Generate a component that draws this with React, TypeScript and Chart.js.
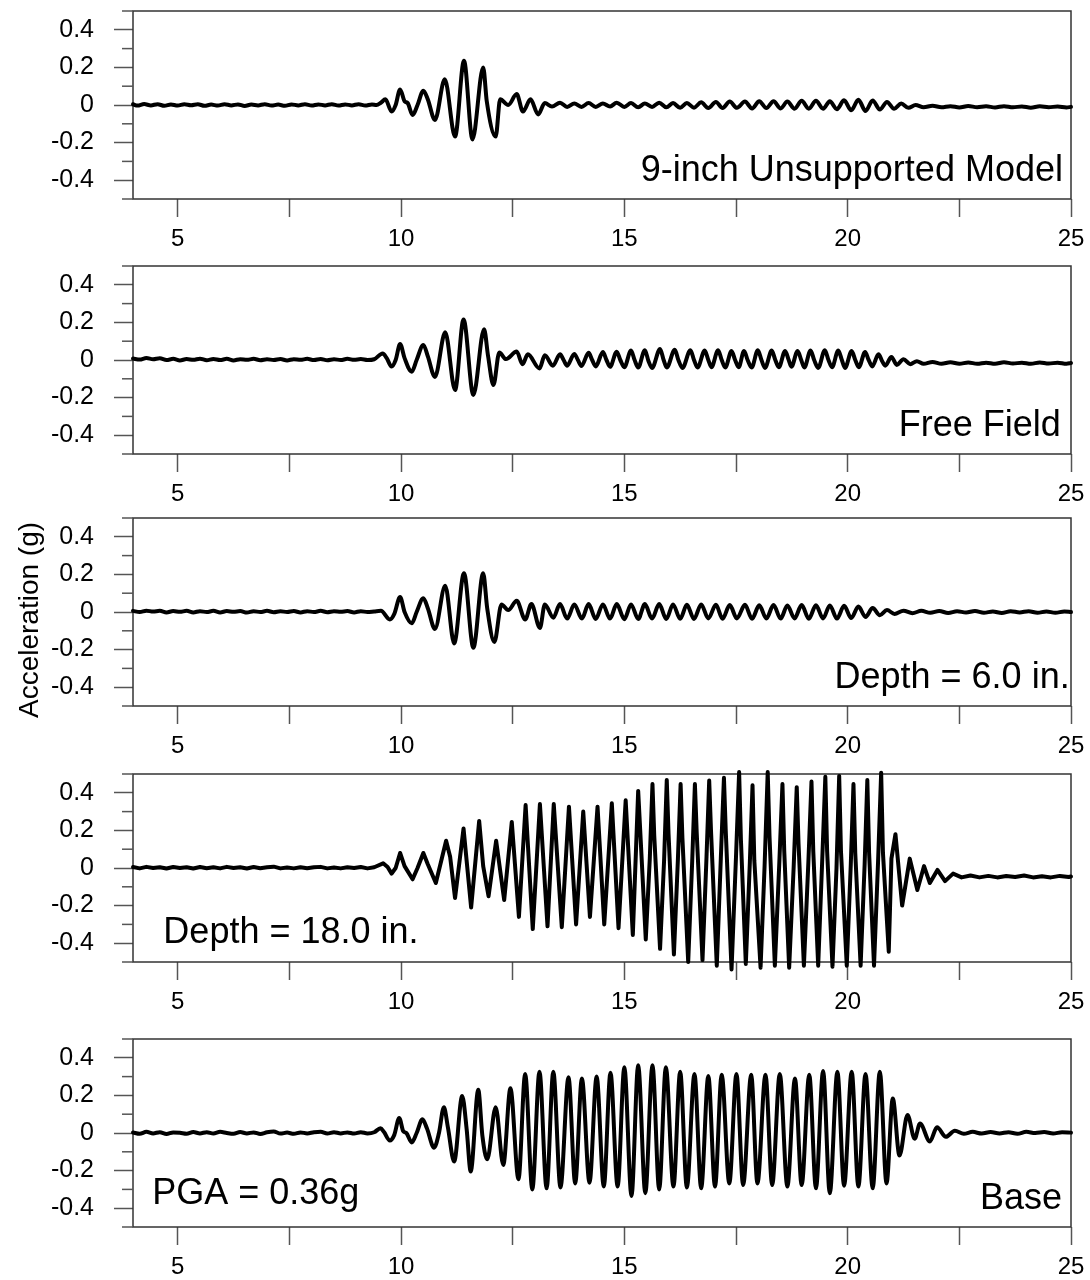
import React, { useEffect, useRef } from "react";
import { Chart, registerables } from "chart.js";

Chart.register(...registerables);

type Pt = [number, number];

// ---------- axis ticks / labels ----------
const X_TICKS = [5, 7.5, 10, 12.5, 15, 17.5, 20, 22.5, 25];
const X_LABELS = [5, 10, 15, 20, 25];
const Y_TICKS = [-0.5, -0.4, -0.3, -0.2, -0.1, 0, 0.1, 0.2, 0.3, 0.4, 0.5];
const Y_LABELS = [-0.4, -0.2, 0, 0.2, 0.4];
const Y_TITLE = "Acceleration (g)";

// ---------- series: [time (s), acceleration (g)] ----------
const unsupported: Pt[] = [
  [4.0, 0.004], [4.1, -0.003], [4.25, 0.005], [4.4, -0.002], [4.55, 0.004], [4.7, -0.004], [4.85, 0.003], [5.0, -0.003],
  [5.15, 0.004], [5.3, -0.001], [5.45, 0.004], [5.6, -0.004], [5.75, 0.002], [5.9, -0.003], [6.05, 0.004], [6.2, -0.002],
  [6.35, 0.003], [6.5, -0.005], [6.65, 0.002], [6.8, -0.002], [6.95, 0.004], [7.1, -0.003], [7.25, 0.002], [7.4, -0.004],
  [7.55, 0.003], [7.7, -0.002], [7.85, 0.004], [8.0, -0.003], [8.15, 0.003], [8.3, -0.002], [8.45, 0.004], [8.6, -0.003],
  [8.75, 0.003], [8.9, -0.002], [9.05, 0.004], [9.2, -0.003], [9.35, 0.003], [9.45, 0.0],
  [9.55, 0.012], [9.65, 0.03], [9.79, -0.035], [9.88, 0.0], [9.98, 0.083], [10.08, 0.02], [10.15, 0.01], [10.26, -0.053],
  [10.37, 0.0], [10.5, 0.076], [10.6, 0.03], [10.76, -0.08], [10.98, 0.137], [11.21, -0.168], [11.41, 0.236], [11.6, -0.183],
  [11.84, 0.2], [11.92, 0.02], [12.12, -0.168], [12.22, 0.03], [12.4, 0.0], [12.59, 0.058], [12.73, -0.035], [12.9, 0.03],
  [13.07, -0.05], [13.22, 0.01], [13.38, -0.008], [13.56, 0.012], [13.72, -0.01], [13.88, 0.008], [14.04, -0.01], [14.2, 0.01],
  [14.36, -0.01], [14.52, 0.008], [14.68, -0.008], [14.83, 0.012], [15.0, -0.01], [15.15, 0.01], [15.31, -0.012], [15.46, 0.008],
  [15.62, -0.01], [15.78, 0.012], [15.94, -0.012], [16.09, 0.01], [16.25, -0.015], [16.4, 0.01], [16.56, -0.014], [16.72, 0.014],
  [16.88, -0.016], [17.05, 0.016], [17.2, -0.016], [17.36, 0.018], [17.52, -0.015], [17.7, 0.018], [17.86, -0.018], [18.02, 0.02],
  [18.18, -0.016], [18.34, 0.02], [18.5, -0.018], [18.65, 0.018], [18.81, -0.02], [18.97, 0.022], [19.13, -0.02], [19.29, 0.022],
  [19.45, -0.02], [19.6, 0.02], [19.76, -0.022], [19.92, 0.025], [20.08, -0.028], [20.24, 0.028], [20.4, -0.032], [20.56, 0.024],
  [20.72, -0.024], [20.88, 0.016], [21.04, -0.02], [21.2, 0.008], [21.36, -0.015], [21.52, 0.0], [21.7, -0.012], [21.9, -0.004],
  [22.1, -0.012], [22.3, -0.006], [22.5, -0.013], [22.7, -0.005], [22.9, -0.012], [23.1, -0.007], [23.3, -0.013], [23.5, -0.006],
  [23.7, -0.012], [23.9, -0.008], [24.1, -0.014], [24.3, -0.007], [24.5, -0.012], [24.7, -0.008], [24.9, -0.013], [25.0, -0.01],
];

const freeField: Pt[] = [
  [4.0, 0.008], [4.15, 0.002], [4.3, 0.01], [4.45, 0.004], [4.6, 0.009], [4.75, 0.0], [4.9, 0.006], [5.05, -0.002],
  [5.2, 0.005], [5.35, 0.001], [5.5, 0.007], [5.65, -0.001], [5.8, 0.005], [5.95, 0.0], [6.1, 0.006], [6.25, -0.002],
  [6.4, 0.004], [6.55, 0.001], [6.7, 0.006], [6.85, -0.001], [7.0, 0.004], [7.15, 0.0], [7.3, 0.005], [7.45, -0.002],
  [7.6, 0.004], [7.75, 0.001], [7.9, 0.006], [8.05, 0.0], [8.2, 0.005], [8.35, -0.001], [8.5, 0.004], [8.65, 0.0],
  [8.8, 0.006], [8.95, 0.001], [9.1, 0.005], [9.25, 0.0], [9.4, 0.004],
  [9.59, 0.035], [9.68, 0.01], [9.79, -0.035], [9.88, 0.0], [9.98, 0.085], [10.08, 0.01], [10.24, -0.062], [10.35, 0.0],
  [10.5, 0.08], [10.6, 0.02], [10.76, -0.09], [10.99, 0.147], [11.21, -0.16], [11.4, 0.216], [11.62, -0.186], [11.86, 0.163],
  [11.95, 0.02], [12.07, -0.133], [12.2, 0.04], [12.35, 0.005], [12.59, 0.045], [12.72, -0.022], [12.84, 0.03], [13.1, -0.045],
  [13.22, 0.025], [13.4, -0.03], [13.56, 0.03], [13.64, 0.0], [13.72, -0.03], [13.88, 0.032], [13.96, 0.0], [14.04, -0.032],
  [14.2, 0.038], [14.28, 0.0], [14.36, -0.034], [14.52, 0.042], [14.6, 0.0], [14.68, -0.036], [14.83, 0.044], [14.91, 0.0],
  [15.0, -0.038], [15.15, 0.05], [15.23, 0.0], [15.31, -0.04], [15.46, 0.052], [15.54, -0.005], [15.62, -0.042], [15.8, 0.058],
  [15.88, 0.0], [15.95, -0.04], [16.13, 0.055], [16.21, 0.0], [16.3, -0.042], [16.48, 0.052], [16.56, 0.0], [16.64, -0.04],
  [16.8, 0.05], [16.88, 0.0], [16.95, -0.038], [17.1, 0.052], [17.18, 0.0], [17.26, -0.04], [17.4, 0.048], [17.48, 0.0],
  [17.56, -0.038], [17.68, 0.048], [17.76, 0.0], [17.85, -0.04], [17.99, 0.052], [18.07, 0.0], [18.15, -0.042], [18.3, 0.05],
  [18.38, 0.0], [18.46, -0.038], [18.6, 0.048], [18.68, 0.0], [18.74, -0.036], [18.88, 0.048], [18.96, 0.0], [19.03, -0.04],
  [19.17, 0.05], [19.25, 0.0], [19.34, -0.042], [19.49, 0.052], [19.57, 0.0], [19.65, -0.038], [19.79, 0.05], [19.87, 0.0],
  [19.94, -0.042], [20.09, 0.048], [20.17, 0.0], [20.25, -0.038], [20.39, 0.042], [20.47, 0.0], [20.55, -0.034], [20.69, 0.03],
  [20.77, -0.005], [20.84, -0.03], [20.98, 0.016], [21.1, -0.026], [21.25, 0.004], [21.4, -0.022], [21.55, -0.006], [21.7, -0.02],
  [21.9, -0.01], [22.1, -0.02], [22.3, -0.012], [22.5, -0.02], [22.7, -0.013], [22.9, -0.02], [23.1, -0.014], [23.3, -0.02],
  [23.5, -0.012], [23.7, -0.019], [23.9, -0.014], [24.1, -0.02], [24.3, -0.013], [24.5, -0.019], [24.7, -0.014], [24.9, -0.02],
  [25.0, -0.016],
];

const depth6: Pt[] = [
  [4.0, 0.006], [4.15, 0.0], [4.3, 0.007], [4.45, 0.002], [4.6, 0.006], [4.75, -0.002], [4.9, 0.005], [5.05, 0.001],
  [5.2, 0.006], [5.35, -0.002], [5.5, 0.004], [5.65, 0.0], [5.8, 0.006], [5.95, -0.002], [6.1, 0.005], [6.25, 0.001],
  [6.4, 0.005], [6.55, -0.003], [6.7, 0.004], [6.85, 0.0], [7.0, 0.006], [7.15, -0.001], [7.3, 0.004], [7.45, 0.0],
  [7.6, 0.005], [7.75, -0.002], [7.9, 0.004], [8.05, 0.0], [8.2, 0.006], [8.35, -0.001], [8.5, 0.004], [8.65, 0.001],
  [8.8, 0.005], [8.95, -0.002], [9.1, 0.004], [9.25, 0.0], [9.4, 0.003],
  [9.55, 0.006], [9.75, -0.04], [9.85, -0.01], [9.98, 0.08], [10.08, 0.0], [10.24, -0.06], [10.35, 0.0], [10.5, 0.073],
  [10.6, 0.02], [10.76, -0.09], [10.99, 0.14], [11.19, -0.167], [11.41, 0.206], [11.62, -0.19], [11.84, 0.206], [11.93, 0.02],
  [12.09, -0.16], [12.25, 0.04], [12.4, 0.01], [12.59, 0.06], [12.78, -0.04], [12.92, 0.042], [13.11, -0.085], [13.22, 0.04],
  [13.41, -0.03], [13.56, 0.042], [13.72, -0.035], [13.88, 0.04], [14.05, -0.035], [14.2, 0.042], [14.36, -0.037], [14.52, 0.04],
  [14.68, -0.035], [14.83, 0.042], [15.0, -0.038], [15.15, 0.04], [15.31, -0.037], [15.46, 0.042], [15.62, -0.035], [15.78, 0.042],
  [15.94, -0.037], [16.09, 0.04], [16.25, -0.036], [16.4, 0.038], [16.56, -0.037], [16.72, 0.04], [16.88, -0.034], [17.05, 0.038],
  [17.2, -0.036], [17.36, 0.037], [17.52, -0.034], [17.7, 0.038], [17.86, -0.036], [18.02, 0.036], [18.18, -0.034], [18.34, 0.037],
  [18.5, -0.035], [18.65, 0.035], [18.81, -0.034], [18.97, 0.037], [19.13, -0.036], [19.29, 0.036], [19.45, -0.034], [19.6, 0.035],
  [19.76, -0.035], [19.92, 0.033], [20.08, -0.032], [20.24, 0.029], [20.4, -0.026], [20.56, 0.021], [20.72, -0.017], [20.88, 0.01],
  [21.05, -0.01], [21.25, 0.007], [21.45, -0.006], [21.65, 0.006], [21.85, -0.004], [22.05, 0.005], [22.25, -0.005], [22.45, 0.004],
  [22.65, -0.003], [22.85, 0.005], [23.05, -0.004], [23.25, 0.003], [23.45, -0.005], [23.65, 0.004], [23.85, -0.002], [24.05, 0.004],
  [24.25, -0.004], [24.45, 0.003], [24.65, -0.004], [24.85, 0.003], [25.0, 0.0],
];

const depth18: Pt[] = [
  [4.0, 0.005], [4.15, -0.002], [4.3, 0.006], [4.45, 0.0], [4.6, 0.004], [4.75, -0.003], [4.9, 0.005], [5.05, 0.0],
  [5.2, 0.004], [5.35, -0.003], [5.5, 0.005], [5.65, -0.001], [5.8, 0.004], [5.95, -0.002], [6.1, 0.006], [6.25, 0.0],
  [6.4, 0.004], [6.55, -0.003], [6.7, 0.005], [6.85, -0.001], [7.0, 0.004], [7.15, 0.007], [7.3, -0.002], [7.45, 0.003],
  [7.6, -0.002], [7.75, 0.004], [7.9, -0.001], [8.05, 0.004], [8.2, 0.006], [8.35, -0.002], [8.5, 0.003], [8.65, -0.002],
  [8.8, 0.004], [8.95, 0.0], [9.1, 0.005], [9.25, -0.002], [9.4, 0.004],
  [9.6, 0.025], [9.7, 0.005], [9.79, -0.03], [9.88, 0.0], [9.98, 0.08], [10.08, 0.01], [10.26, -0.06], [10.37, 0.0],
  [10.5, 0.08], [10.6, 0.02], [10.78, -0.08], [11.01, 0.145], [11.1, 0.06], [11.21, -0.16], [11.4, 0.21], [11.57, -0.21],
  [11.75, 0.25], [11.84, 0.01], [11.96, -0.15], [12.13, 0.145], [12.31, -0.17], [12.48, 0.245], [12.64, -0.26], [12.79, 0.335],
  [12.95, -0.325], [13.11, 0.34], [13.28, -0.31], [13.42, 0.34], [13.6, -0.315], [13.76, 0.326], [13.92, -0.3], [14.08, 0.3],
  [14.23, -0.26], [14.4, 0.326], [14.55, -0.3], [14.72, 0.344], [14.87, -0.32], [15.03, 0.36], [15.19, -0.356], [15.31, 0.41],
  [15.48, -0.38], [15.57, 0.05], [15.63, 0.447], [15.67, 0.17], [15.8, -0.43], [15.89, 0.04], [15.95, 0.468], [15.99, 0.18],
  [16.11, -0.46], [16.2, 0.05], [16.26, 0.447], [16.3, 0.16], [16.43, -0.5], [16.52, 0.04], [16.58, 0.447], [16.62, 0.19],
  [16.75, -0.49], [16.84, 0.06], [16.9, 0.465], [16.94, 0.2], [17.07, -0.52], [17.16, 0.05], [17.23, 0.48], [17.27, 0.2],
  [17.4, -0.54], [17.5, 0.06], [17.57, 0.51], [17.61, 0.15], [17.72, -0.51], [17.81, 0.03], [17.87, 0.44], [17.91, 0.04],
  [18.05, -0.53], [18.14, 0.01], [18.21, 0.51], [18.25, 0.17], [18.37, -0.52], [18.47, 0.03], [18.54, 0.447], [18.58, 0.09],
  [18.69, -0.53], [18.79, 0.0], [18.86, 0.43], [18.9, 0.13], [19.02, -0.52], [19.12, 0.03], [19.19, 0.46], [19.23, 0.09],
  [19.34, -0.52], [19.43, 0.04], [19.5, 0.485], [19.54, 0.09], [19.66, -0.525], [19.75, 0.0], [19.81, 0.49], [19.85, 0.09],
  [19.98, -0.52], [20.07, 0.02], [20.13, 0.447], [20.17, 0.08], [20.29, -0.52], [20.38, 0.02], [20.44, 0.468], [20.48, 0.08],
  [20.59, -0.52], [20.68, 0.03], [20.75, 0.507], [20.79, 0.08], [20.92, -0.445], [20.98, 0.05], [21.07, 0.18], [21.22, -0.2],
  [21.39, 0.05], [21.56, -0.117], [21.71, 0.01], [21.84, -0.08], [22.01, -0.01], [22.18, -0.07], [22.36, -0.03], [22.55, -0.05],
  [22.75, -0.04], [22.95, -0.05], [23.15, -0.042], [23.35, -0.05], [23.55, -0.043], [23.75, -0.048], [23.95, -0.04], [24.15, -0.05],
  [24.35, -0.044], [24.55, -0.05], [24.75, -0.042], [24.95, -0.048], [25.0, -0.045],
];

const base: Pt[] = [
  [4.0, 0.003], [4.15, -0.004], [4.3, 0.006], [4.45, -0.002], [4.6, 0.004], [4.75, -0.005], [4.9, 0.003], [5.05, 0.001],
  [5.2, -0.004], [5.35, 0.005], [5.5, -0.002], [5.65, 0.004], [5.8, -0.003], [5.95, 0.006], [6.1, 0.0], [6.25, -0.004],
  [6.4, 0.005], [6.55, -0.002], [6.7, 0.003], [6.85, -0.005], [7.0, 0.004], [7.15, 0.008], [7.3, -0.003], [7.45, 0.002],
  [7.6, -0.004], [7.75, 0.003], [7.9, -0.002], [8.05, 0.004], [8.2, 0.007], [8.35, -0.003], [8.5, 0.004], [8.65, -0.002],
  [8.8, 0.003], [8.95, -0.003], [9.1, 0.004], [9.25, -0.002], [9.4, 0.004],
  [9.54, 0.025], [9.62, 0.005], [9.75, -0.04], [9.85, -0.01], [9.96, 0.08], [10.05, 0.01], [10.12, 0.0], [10.24, -0.05],
  [10.35, 0.0], [10.48, 0.073], [10.58, 0.025], [10.74, -0.078], [10.85, 0.0], [10.96, 0.137], [11.05, 0.03], [11.19, -0.152],
  [11.37, 0.197], [11.47, 0.02], [11.56, -0.205], [11.73, 0.23], [11.82, -0.01], [11.93, -0.14], [12.12, 0.137], [12.29, -0.17],
  [12.45, 0.238], [12.63, -0.246], [12.78, 0.314], [12.94, -0.3], [13.1, 0.326], [13.26, -0.294], [13.41, 0.326], [13.57, -0.29],
  [13.75, 0.296], [13.9, -0.268], [14.05, 0.29], [14.22, -0.264], [14.38, 0.3], [14.54, -0.285], [14.69, 0.32], [14.85, -0.285],
  [15.0, 0.35], [15.16, -0.335], [15.31, 0.36], [15.47, -0.32], [15.63, 0.36], [15.78, -0.3], [15.93, 0.35], [16.1, -0.285],
  [16.25, 0.326], [16.4, -0.29], [16.57, 0.314], [16.72, -0.294], [16.88, 0.303], [17.03, -0.285], [17.18, 0.31], [17.35, -0.268],
  [17.51, 0.314], [17.66, -0.277], [17.84, 0.31], [17.98, -0.268], [18.16, 0.31], [18.31, -0.277], [18.48, 0.314], [18.65, -0.285],
  [18.82, 0.29], [18.97, -0.277], [19.14, 0.31], [19.29, -0.294], [19.45, 0.33], [19.6, -0.32], [19.77, 0.326], [19.92, -0.28],
  [20.09, 0.326], [20.24, -0.285], [20.4, 0.314], [20.56, -0.294], [20.72, 0.326], [20.87, -0.268], [21.01, 0.184], [21.16, -0.12],
  [21.34, 0.096], [21.5, -0.03], [21.62, 0.05], [21.84, -0.045], [22.0, 0.03], [22.2, -0.02], [22.4, 0.012], [22.6, -0.004],
  [22.8, 0.006], [23.0, -0.003], [23.2, 0.005], [23.4, -0.002], [23.6, 0.004], [23.8, -0.004], [24.0, 0.006], [24.2, 0.0],
  [24.4, 0.005], [24.6, -0.003], [24.8, 0.004], [25.0, 0.002],
];

// ---------- layout ----------
type Note = { text: string; x: number; y: number; align: CanvasTextAlign };
type PanelCfg = { data: Pt[]; top: number; smooth: boolean; notes: Note[] };

const PANELS: PanelCfg[] = [
  { data: unsupported, top: 11, smooth: true, notes: [{ text: "9-inch Unsupported Model", x: 24.82, y: -0.35, align: "right" }] },
  { data: freeField, top: 266, smooth: true, notes: [{ text: "Free Field", x: 24.77, y: -0.35, align: "right" }] },
  { data: depth6, top: 518, smooth: true, notes: [{ text: "Depth = 6.0 in.", x: 24.97, y: -0.35, align: "right" }] },
  { data: depth18, top: 774, smooth: false, notes: [{ text: "Depth = 18.0 in.", x: 4.68, y: -0.345, align: "left" }] },
  {
    data: base, top: 1039, smooth: true, notes: [
      { text: "PGA = 0.36g", x: 4.43, y: -0.325, align: "left" },
      { text: "Base", x: 24.8, y: -0.35, align: "right" },
    ],
  },
];

const W = 1090;
const PLOT_LEFT = 133;
const PLOT_RIGHT = 1071;
const PLOT_H = 188;
const PAD_TOP = 16;
const AXIS_H = 60;
const FONT = '"Liberation Sans", Arial, Helvetica, sans-serif';
const TITLE_Y = 620;

const isYLabel = (v: number) => Y_LABELS.some((l) => Math.abs(l - v) < 1e-9);

function Panel({ cfg, showTitle }: { cfg: PanelCfg; showTitle: boolean }) {
  const ref = useRef<HTMLCanvasElement>(null);
  const canvasTop = cfg.top - PAD_TOP;

  useEffect(() => {
    const canvas = ref.current;
    if (!canvas) return;
    const decor = {
      id: "decor",
      beforeDatasetsDraw(chart: any) {
        const { ctx, chartArea: a, scales } = chart;
        ctx.save();
        ctx.strokeStyle = "#333";
        ctx.lineWidth = 1.5;
        ctx.strokeRect(a.left, a.top, a.right - a.left, a.bottom - a.top);
        ctx.strokeStyle = "#555";
        ctx.lineWidth = 1.5;
        for (const v of Y_TICKS) {
          if (isYLabel(v)) continue;
          const py = scales.y.getPixelForValue(v);
          ctx.beginPath();
          ctx.moveTo(a.left - 11, py);
          ctx.lineTo(a.left, py);
          ctx.stroke();
        }
        ctx.restore();
      },
      afterDraw(chart: any) {
        const { ctx, scales } = chart;
        ctx.save();
        ctx.fillStyle = "#000";
        ctx.font = `36px ${FONT}`;
        ctx.textBaseline = "middle";
        for (const n of cfg.notes) {
          ctx.textAlign = n.align;
          ctx.fillText(n.text, scales.x.getPixelForValue(n.x), scales.y.getPixelForValue(n.y));
        }
        if (showTitle) {
          ctx.translate(30, TITLE_Y - canvasTop);
          ctx.rotate(-Math.PI / 2);
          ctx.textAlign = "center";
          ctx.font = `28px ${FONT}`;
          ctx.fillText(Y_TITLE, 0, 0);
        }
        ctx.restore();
      },
    };

    const chart = new Chart(canvas, {
      type: "line",
      data: {
        datasets: [
          {
            data: cfg.data.map(([x, y]) => ({ x, y })),
            borderColor: "#000",
            borderWidth: 4,
            pointRadius: 0,
            tension: cfg.smooth ? 0.4 : 0,
            cubicInterpolationMode: cfg.smooth ? "monotone" : "default",
            borderJoinStyle: "round",
            borderCapStyle: "round",
            clip: false,
          } as any,
        ],
      },
      options: {
        animation: false,
        responsive: false,
        devicePixelRatio: 1,
        layout: { padding: { left: 0, right: W - PLOT_RIGHT, top: PAD_TOP, bottom: 0 } },
        plugins: { legend: { display: false }, tooltip: { enabled: false } },
        scales: {
          x: {
            type: "linear",
            min: 4,
            max: 25,
            afterBuildTicks: (s: any) => {
              s.ticks = X_TICKS.map((v) => ({ value: v }));
            },
            afterFit: (s: any) => {
              s.height = AXIS_H;
              s.paddingLeft = 0;
              s.paddingRight = 0;
            },
            ticks: {
              autoSkip: false,
              maxRotation: 0,
              padding: 8,
              color: "#000",
              font: { family: FONT, size: 24 },
              callback: (v: any) => (X_LABELS.includes(Number(v)) ? String(v) : ""),
            },
            grid: { drawOnChartArea: false, drawTicks: true, tickLength: 18, tickColor: "#555", tickWidth: 1.5 },
            border: { display: false },
          },
          y: {
            type: "linear",
            min: -0.5,
            max: 0.5,
            afterBuildTicks: (s: any) => {
              s.ticks = Y_TICKS.map((v) => ({ value: v }));
            },
            afterFit: (s: any) => {
              s.width = PLOT_LEFT;
              s.paddingTop = 0;
              s.paddingBottom = 0;
            },
            ticks: {
              autoSkip: false,
              padding: 20,
              color: "#000",
              font: { family: FONT, size: 25 },
              callback: (v: any) => {
                const n = Number(v);
                if (!isYLabel(n)) return "";
                return Math.abs(n) < 1e-9 ? "0" : n.toFixed(1);
              },
            },
            grid: {
              drawOnChartArea: false,
              drawTicks: true,
              tickLength: 19,
              tickWidth: 1.5,
              tickColor: (c: any) => (c.tick && isYLabel(c.tick.value) ? "#555" : "rgba(0,0,0,0)"),
            },
            border: { display: false },
          },
        },
      } as any,
      plugins: [decor],
    });
    return () => chart.destroy();
  }, []);

  return (
    <canvas
      ref={ref}
      width={W}
      height={PAD_TOP + PLOT_H + AXIS_H}
      style={{ position: "absolute", left: 0, top: canvasTop, width: W, height: PAD_TOP + PLOT_H + AXIS_H }}
    />
  );
}

export default function App() {
  return (
    <div style={{ position: "absolute", left: 0, top: 0, width: 1090, height: 1280, background: "#fff", overflow: "hidden" }}>
      {PANELS.map((p, i) => (
        <Panel key={i} cfg={p} showTitle={i === 2} />
      ))}
    </div>
  );
}
